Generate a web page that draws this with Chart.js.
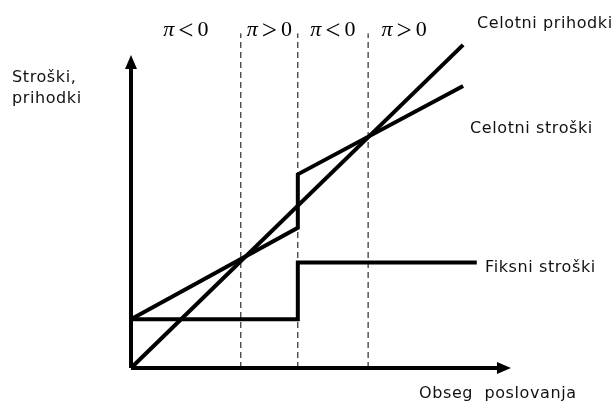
<!DOCTYPE html>
<html>
<head>
<meta charset="utf-8">
<script src="https://cdn.jsdelivr.net/npm/chart.js@4"></script>
<style>
  html, body { margin: 0; padding: 0; background: #fff; }
  #wrap { width: 615px; height: 403px; position: relative; }
</style>
</head>
<body>
<div id="wrap"><canvas id="chart"></canvas></div>
<script>
// podatki (enote grafa: x 0..100, y 0..100)
const revenueX = [0, 87.4];
const revenueY = [0, 95.6];
const totalCostX = [0, 43.9, 43.9, 87.4];
const totalCostY = [14.4, 41.5, 57.3, 83.4];
const fixedCostX = [0, 43.9, 43.9, 91];
const fixedCostY = [14.4, 14.4, 31.2, 31.2];
const breakX = [28.9, 43.9, 62.4];
const dashTop = 99;
const profitLabels = ['<', '>', '<', '>'];
const axisXMax = 100;
const axisYMax = 92.6;

const BLACK = '#000';

function pts(xs, ys) {
  return xs.map((x, i) => ({ x: x, y: ys[i] }));
}

function solid(data) {
  return {
    data: data,
    borderColor: BLACK,
    borderWidth: 4,
    pointRadius: 0,
    tension: 0,
    fill: false,
    clip: false,
    borderJoinStyle: 'miter',
    borderCapStyle: 'butt'
  };
}

const datasets = [];
// osi
datasets.push(solid([{ x: 0, y: 0 }, { x: axisXMax - 3, y: 0 }]));
datasets.push(solid([{ x: 0, y: 0 }, { x: 0, y: axisYMax - 3 }]));
// navpične črtkane črte
breakX.forEach(x => {
  datasets.push({
    data: [{ x: x, y: 0 }, { x: x, y: dashTop }],
    borderColor: BLACK,
    borderWidth: 1,
    borderDash: [6, 4],
    pointRadius: 0,
    clip: false
  });
});
datasets.push(solid(pts(fixedCostX, fixedCostY)));
datasets.push(solid(pts(totalCostX, totalCostY)));
datasets.push(solid(pts(revenueX, revenueY)));

// puščice in besedila
const decor = {
  id: 'decor',
  afterDatasetsDraw(chart) {
    const ctx = chart.ctx;
    const sx = chart.scales.x, sy = chart.scales.y;
    const x0 = sx.getPixelForValue(0), y0 = sy.getPixelForValue(0);
    ctx.save();
    ctx.fillStyle = BLACK;
    // puščica y
    const ty = sy.getPixelForValue(axisYMax);
    ctx.beginPath();
    ctx.moveTo(x0, ty);
    ctx.lineTo(x0 - 6, ty + 14);
    ctx.lineTo(x0 + 6, ty + 14);
    ctx.closePath();
    ctx.fill();
    // puščica x
    const tx = sx.getPixelForValue(axisXMax);
    ctx.beginPath();
    ctx.moveTo(tx, y0);
    ctx.lineTo(tx - 14, y0 - 6);
    ctx.lineTo(tx - 14, y0 + 6);
    ctx.closePath();
    ctx.fill();

    // pi oznake: π, znak, 0
    const bounds = [0].concat(breakX, [breakX[breakX.length - 1] + 19]);
    ctx.textBaseline = 'alphabetic';
    const fPi = 'italic 22px "Liberation Serif"';
    const fOp = '27px "Liberation Serif"';
    const fNum = '22px "Liberation Serif"';
    profitLabels.forEach((op, i) => {
      const cx = sx.getPixelForValue((bounds[i] + bounds[i + 1]) / 2);
      ctx.font = fPi; const w1 = ctx.measureText('π').width;
      ctx.font = fOp; const w2 = ctx.measureText(op).width;
      ctx.font = fNum; const w3 = ctx.measureText('0').width;
      const gap = 4;
      let x = cx - (w1 + w2 + w3 + 2 * gap) / 2;
      ctx.font = fPi; ctx.fillText('π', x, 36); x += w1 + gap;
      ctx.font = fOp; ctx.fillText(op, x, 39); x += w2 + gap;
      ctx.font = fNum; ctx.fillText('0', x, 36);
    });

    ctx.font = '16px "DejaVu Sans"';
    ctx.letterSpacing = '0.6px';
    ctx.fillStyle = '#111';
    ctx.fillText('Celotni prihodki', 477, 28);
    ctx.fillText('Celotni stroški', 470, 133);
    ctx.fillText('Fiksni stroški', 485, 272);
    ctx.fillText('Stroški,', 12, 82);
    ctx.fillText('prihodki', 12, 103);
    ctx.fillText('Obseg  poslovanja', 419, 398);
    ctx.restore();
  }
};

new Chart(document.getElementById('chart'), {
  type: 'line',
  data: { datasets: datasets },
  options: {
    responsive: true,
    maintainAspectRatio: false,
    animation: false,
    layout: { padding: { left: 131, right: 104, top: 30, bottom: 35 } },
    scales: {
      x: { type: 'linear', min: 0, max: 100, display: false },
      y: { type: 'linear', min: 0, max: 100, display: false }
    },
    plugins: {
      legend: { display: false },
      tooltip: { enabled: false }
    }
  },
  plugins: [decor]
});
</script>
</body>
</html>
